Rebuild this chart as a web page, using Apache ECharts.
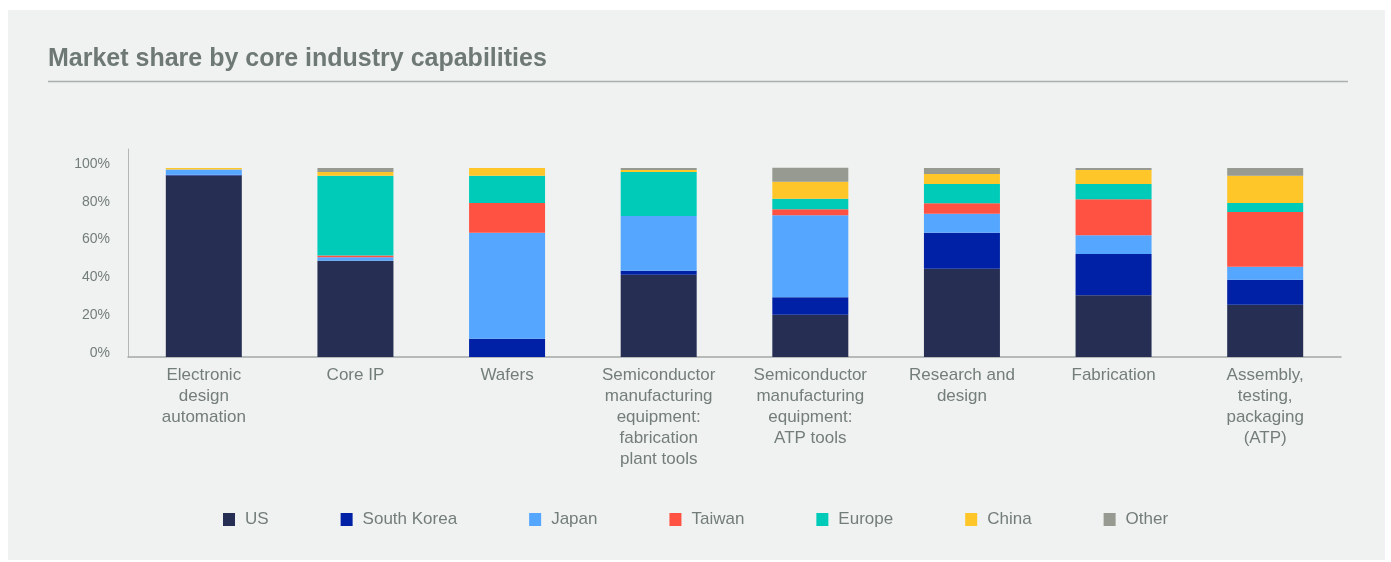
<!DOCTYPE html>
<html>
<head>
<meta charset="utf-8">
<script src="https://cdn.jsdelivr.net/npm/echarts@6/dist/echarts.min.js"></script>
<style>
  html, body { margin: 0; padding: 0; background: #ffffff; }
  #chart { width: 1391px; height: 562px; }
</style>
</head>
<body>
<div id="chart"></div>
<script>
// Categories along the x axis
const categories = [
  'Electronic\ndesign\nautomation',
  'Core IP',
  'Wafers',
  'Semiconductor\nmanufacturing\nequipment:\nfabrication\nplant tools',
  'Semiconductor\nmanufacturing\nequipment:\nATP tools',
  'Research and\ndesign',
  'Fabrication',
  'Assembly,\ntesting,\npackaging\n(ATP)'
];

// Market share (%) by region, one value per category
const us         = [96.0, 50.9, 0.0, 43.5, 22.4, 46.7, 32.7, 27.6];
const southKorea = [0.4, 0.0, 9.7, 2.1, 9.2, 19.0, 21.8, 13.2];
const japan      = [2.8, 1.9, 56.0, 29.0, 43.3, 10.0, 9.9, 6.9];
const taiwan     = [0.0, 0.9, 15.8, 0.0, 3.2, 5.6, 19.0, 29.0];
const europe     = [0.0, 42.1, 14.3, 23.2, 5.6, 10.2, 8.1, 4.8];
const china      = [0.8, 2.1, 4.2, 1.1, 9.0, 5.3, 7.4, 14.3];
const other      = [0.0, 2.1, 0.0, 1.1, 7.4, 3.2, 1.1, 4.2];

// Y axis ticks
const yTicks = [0, 20, 40, 60, 80, 100];

const regions = [
  { name: 'US',          data: us,         color: '#262F53' },
  { name: 'South Korea', data: southKorea, color: '#0021A5' },
  { name: 'Japan',       data: japan,      color: '#54A6FF' },
  { name: 'Taiwan',      data: taiwan,     color: '#FF5242' },
  { name: 'Europe',      data: europe,     color: '#00CBB8' },
  { name: 'China',       data: china,      color: '#FFC629' },
  { name: 'Other',       data: other,      color: '#979A90' }
];

const textGray = '#737D7A';
const font = '"Liberation Sans", Arial, sans-serif';

const chart = echarts.init(document.getElementById('chart'));
chart.setOption({
  animation: false,
  textStyle: { fontFamily: font },
  graphic: [
    { type: 'rect', z: -10, shape: { x: 8, y: 10, width: 1377, height: 550 }, style: { fill: '#F0F2F1' } },
    { type: 'text', left: 48, top: 47, style: { text: 'Market share by core industry capabilities', font: 'bold 25px ' + font, fill: '#6E7875' } },
    { type: 'line', shape: { x1: 48, y1: 81.5, x2: 1348, y2: 81.5 }, style: { stroke: '#A9B0AD', lineWidth: 1.5 } }
  ],
  grid: { left: 128, right: 50, top: 149, bottom: 205, containLabel: false },
  legend: {
    left: 218,
    top: 506,
    itemWidth: 12,
    itemHeight: 13,
    itemGap: 72,
    icon: 'rect',
    selectedMode: false,
    textStyle: { fontSize: 17, color: textGray, padding: [0, 0, 0, 5] },
    data: regions.map(r => r.name)
  },
  xAxis: {
    type: 'category',
    data: categories,
    axisTick: { show: false },
    axisLine: { lineStyle: { color: '#A3A8A6', width: 1.5 } },
    axisLabel: { fontSize: 17, lineHeight: 21, color: textGray, margin: 8, interval: 0 }
  },
  yAxis: {
    type: 'value',
    min: 0,
    max: 110,
    interval: 20,
    splitLine: { show: false },
    axisTick: { show: false },
    axisLine: { show: true, lineStyle: { color: '#B3B8B6', width: 1 } },
    axisLabel: {
      fontSize: 14,
      color: textGray,
      margin: 18,
      verticalAlign: 'bottom',
      lineHeight: 8,
      showMaxLabel: false,
      formatter: v => (yTicks.indexOf(v) >= 0 ? v + '%' : '')
    }
  },
  series: regions.map(r => ({
    name: r.name,
    type: 'bar',
    stack: 'share',
    barWidth: 76,
    data: r.data,
    itemStyle: { color: r.color }
  }))
});
</script>
</body>
</html>
